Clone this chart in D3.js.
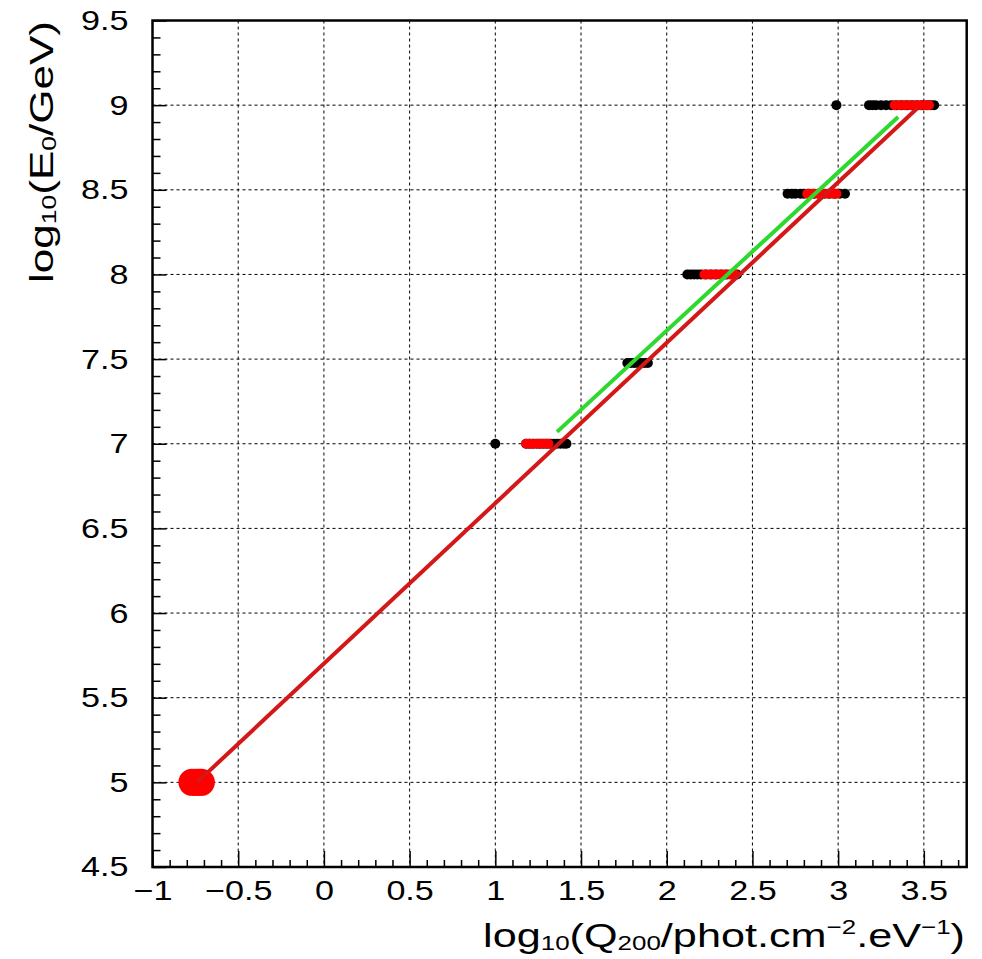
<!DOCTYPE html>
<html>
<head>
<meta charset="utf-8">
<script src="https://cdn.jsdelivr.net/npm/d3@7"></script>
<style>
  body { margin: 0; background: #fff; }
  svg { display: block; }
  .tick text { font-family: "Liberation Sans", Arial, Helvetica, sans-serif; }
</style>
</head>
<body>
<svg width="982" height="959"></svg>
<script>
// Energy levels (log10 E0 / GeV) and reconstructed log10 Q200 per level
const levels = [5, 7, 7.477, 8, 8.477, 9];

// black markers: all showers, one array per level
const blackQ = [
    [],
    [1.0, 1.18, 1.2, 1.22, 1.24, 1.26, 1.28, 1.3, 1.32, 1.34, 1.36, 1.38, 1.4, 1.415],
    [1.77, 1.79, 1.81, 1.83, 1.85, 1.87, 1.89],
    [2.12, 2.14, 2.16, 2.18, 2.2, 2.23, 2.26, 2.29, 2.32, 2.35, 2.38, 2.41],
    [2.705, 2.73, 2.75, 2.78, 2.8, 2.83, 2.86, 2.89, 2.92, 2.95, 2.98, 3.01, 3.04],
    [2.99, 3.18, 3.2, 3.22, 3.25, 3.28, 3.31, 3.34, 3.37, 3.4, 3.43, 3.46, 3.49, 3.52, 3.54, 3.56]
];

// red markers: selected showers
const redQ = [
    [-0.77, -0.75, -0.73, -0.715],
    [1.18, 1.2, 1.22, 1.25, 1.27, 1.29, 1.31],
    [],
    [2.22, 2.25, 2.28, 2.31, 2.34, 2.37, 2.4],
    [2.82, 2.85, 2.88, 2.91, 2.94, 2.97, 2.99],
    [3.33, 3.36, 3.39, 3.42, 3.45, 3.48, 3.51, 3.53]
];

// fitted lines, endpoints [log10 Q, log10 E]
const redFit = [[-0.74, 5.0], [3.46, 8.98]];
const greenFit = [[1.36, 7.07], [3.35, 8.93]];

const xMajor = [-1, -0.5, 0, 0.5, 1, 1.5, 2, 2.5, 3, 3.5];
const yMajor = [4.5, 5, 5.5, 6, 6.5, 7, 7.5, 8, 8.5, 9, 9.5];

const svg = d3.select('svg');
const frameL = 152.5, frameR = 966.7, frameT = 20.5, frameB = 867;
const font = '"Liberation Sans", Arial, Helvetica, sans-serif';
const stretch = 1.22; // glyphs are drawn a bit wider than tall

const x = d3.scaleLinear().domain([-1, 3.75]).range([frameL, frameR]);
const y = d3.scaleLinear().domain([4.5, 9.5]).range([frameB, frameT]);

// minor ticks every 0.1
const xMinor = d3.range(-10, 38).map(i => i / 10).filter(v => !xMajor.some(m => Math.abs(m - v) < 1e-6));
const yMinor = d3.range(45, 96).map(i => i / 10).filter(v => !yMajor.some(m => Math.abs(m - v) < 1e-6));

// grid
const grid = svg.append('g')
    .attr('stroke', '#000')
    .attr('stroke-width', 1)
    .attr('stroke-dasharray', '3,3');
grid.selectAll('line.gx')
    .data(xMajor.filter(v => v > -1))
    .enter().append('line')
    .attr('x1', d => x(d)).attr('x2', d => x(d))
    .attr('y1', frameT).attr('y2', frameB);
grid.selectAll('line.gy')
    .data(yMajor.filter(v => v > 4.5 && v < 9.5))
    .enter().append('line')
    .attr('x1', frameL).attr('x2', frameR)
    .attr('y1', d => y(d)).attr('y2', d => y(d));

// axes, ticks pointing into the frame
const fmt = d3.format('~g');
const xAxisG = svg.append('g')
    .attr('transform', `translate(0,${frameB})`)
    .call(d3.axisBottom(x).tickValues(xMajor).tickFormat(fmt).tickSize(-16).tickSizeOuter(0).tickPadding(13));
svg.append('g')
    .attr('transform', `translate(0,${frameB})`)
    .call(d3.axisBottom(x).tickValues(xMinor).tickFormat('').tickSize(-7).tickSizeOuter(0));
const yAxisG = svg.append('g')
    .attr('transform', `translate(${frameL},0)`)
    .call(d3.axisLeft(y).tickValues(yMajor).tickFormat(fmt).tickSize(-14).tickSizeOuter(0).tickPadding(24));
svg.append('g')
    .attr('transform', `translate(${frameL},0)`)
    .call(d3.axisLeft(y).tickValues(yMinor).tickFormat('').tickSize(-8).tickSizeOuter(0));

svg.selectAll('.domain').remove();
svg.selectAll('.tick line').attr('stroke', '#000').attr('stroke-width', 1.5);
svg.selectAll('.tick text')
    .attr('font-size', 28)
    .attr('fill', '#000');
xAxisG.selectAll('.tick text')
    .attr('transform', `scale(${stretch},1)`);
yAxisG.selectAll('.tick text')
    .attr('x', -24 / stretch)
    .attr('transform', `scale(${stretch},1)`);

// frame
svg.append('rect')
    .attr('x', frameL).attr('y', frameT)
    .attr('width', frameR - frameL).attr('height', frameB - frameT)
    .attr('fill', 'none')
    .attr('stroke', '#000')
    .attr('stroke-width', 2.5);

// markers
const flat = (arr) => arr.flatMap((qs, i) => qs.map(q => ({ q, e: levels[i] })));

svg.append('g').selectAll('circle')
    .data(flat(blackQ))
    .enter().append('circle')
    .attr('cx', d => x(d.q))
    .attr('cy', d => y(d.e))
    .attr('r', 5)
    .attr('fill', '#000');

svg.append('g').selectAll('circle')
    .data(flat(redQ))
    .enter().append('circle')
    .attr('cx', d => x(d.q))
    .attr('cy', d => y(d.e))
    .attr('r', d => d.e === 5 ? 13.5 : 5)
    .attr('fill', '#ff0000');

// fit lines
const line = d3.line().x(d => x(d[0])).y(d => y(d[1]));
svg.append('path')
    .attr('d', line(redFit))
    .attr('fill', 'none')
    .attr('stroke', '#d41818')
    .attr('stroke-width', 4);
svg.append('path')
    .attr('d', line(greenFit))
    .attr('fill', 'none')
    .attr('stroke', '#2ed82e')
    .attr('stroke-width', 4);

// axis titles with sub/superscripts
function title(g, parts, size) {
    const t = g.append('text')
        .attr('font-family', font)
        .attr('font-size', size)
        .attr('text-anchor', 'end')
        .attr('fill', '#000');
    let shift = 0;
    parts.forEach(([s, kind]) => {
        const target = kind === 'sub' ? 3 : kind === 'sup' ? -13 : 0;
        t.append('tspan')
            .attr('dy', target - shift)
            .attr('font-size', kind ? size * 0.6 : size)
            .text(s);
        shift = target;
    });
    return t;
}

const xt = svg.append('g');
const xtText = title(xt, [
    ['log'], ['10', 'sub'], ['(Q'], ['200', 'sub'], ['/phot.cm'], ['\u22122', 'sup'],
    ['.eV'], ['\u22121', 'sup'], [')']
], 34);
const xw = xtText.node().getComputedTextLength();
xt.attr('transform', `translate(965,947) scale(${482 / xw},1)`);

const yt = svg.append('g');
const ytText = title(yt, [
    ['log'], ['10', 'sub'], ['(E'], ['0', 'sub'], ['/GeV)']
], 33);
const yw = ytText.node().getComputedTextLength();
yt.attr('transform', `translate(53,21) rotate(-90) scale(${262 / yw},1)`);
</script>
</body>
</html>
